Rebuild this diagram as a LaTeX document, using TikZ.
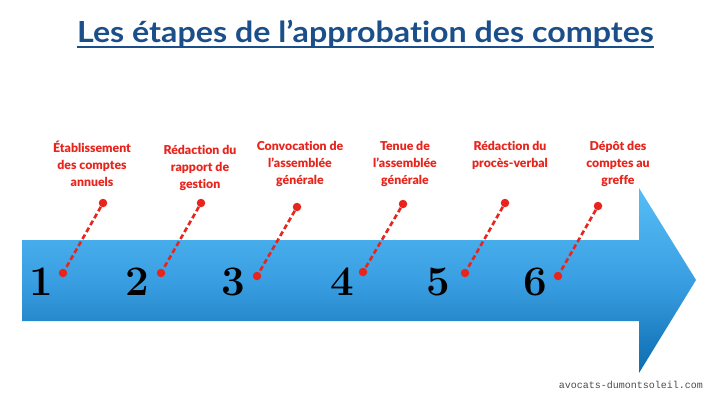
\documentclass[tikz,border=0pt]{standalone}
\usepackage{fontspec}
\setmainfont{Lato}
\newfontfamily\labfont{Lato Black}[Ligatures=NoCommon]
\newfontfamily\titlefont{Lato Bold}[Ligatures=NoCommon, FakeStretch=1.11]
\newfontfamily\wmfont{Liberation Mono}
\newfontfamily\numfont{Latin Modern Roman}
\usetikzlibrary{calc}
\definecolor{titleblue}{HTML}{1A4F8A}
\definecolor{stepred}{HTML}{E8251C}
\definecolor{arrowtop}{HTML}{55BDF5}
\definecolor{arrowmid}{HTML}{3A9FE2}
\definecolor{arrowbot}{HTML}{0C6CB0}
\tikzset{
  x=1pt, y=-1pt,
  lbl/.style={text=stepred, font=\labfont\fontsize{12.3}{17}\selectfont, align=center, inner sep=0pt},
  num/.style={font=\numfont\bfseries\fontsize{42}{42}\selectfont, text=black, inner sep=0pt, anchor=base},
  reddot/.style={circle, fill=stepred, minimum size=8.5pt, inner sep=0pt},
  dashline/.style={stepred, line width=2.6pt, dash pattern=on 5pt off 3pt},
}
\begin{document}
\begin{tikzpicture}
\useasboundingbox (0,0) rectangle (712,400);
\fill[white] (0,0) rectangle (712,400);
% arrow
\shade[top color=arrowtop, bottom color=arrowbot, middle color=arrowmid]
  (22,240) -- (639,240) -- (639,188) -- (696,280) -- (639,373) -- (639,321) -- (22,321) -- cycle;
% title
\node[text=titleblue, font=\titlefont\fontsize{29}{29}\selectfont, inner sep=0pt, anchor=base] (title) at (365.5,42) {Les étapes de l’approbation des comptes};
\draw[titleblue, line width=2pt] ([yshift=-5pt]title.base west) -- ([yshift=-5pt]title.base east);
% numbers
\node[num] (n1) at (41,295) {1};
\node[num] (n2) at (137,295) {2};
\node[num] (n3) at (233,295) {3};
\node[num] (n4) at (342,295) {4};
\node[num] (n5) at (438,295) {5};
\node[num] (n6) at (535,295) {6};
% dots
\node[reddot] (u1) at (103,203) {};
\node[reddot] (l1) at (63,273) {};
\node[reddot] (u2) at (201,203) {};
\node[reddot] (l2) at (161,273) {};
\node[reddot] (u3) at (297,207) {};
\node[reddot] (l3) at (257,276) {};
\node[reddot] (u4) at (403,204) {};
\node[reddot] (l4) at (363,272) {};
\node[reddot] (u5) at (505,203) {};
\node[reddot] (l5) at (465,273) {};
\node[reddot] (u6) at (598,206) {};
\node[reddot] (l6) at (558,276) {};
\foreach \i in {1,...,6} \draw[dashline] (u\i) -- (l\i);
% labels
\node[lbl, anchor=north] (t1) at (92,141) {Établissement\\des comptes\\annuels};
\node[lbl, anchor=north] (t2) at (200,145) {Rédaction du\\rapport de\\gestion};
\node[lbl, anchor=north] (t3) at (300,141) {Convocation de\\l’assemblée\\générale};
\node[lbl, anchor=north] (t4) at (405,141) {Tenue de\\l’assemblée\\générale};
\node[lbl, anchor=north] (t5) at (510,141) {Rédaction du\\procès-verbal};
\node[lbl, anchor=north] (t6) at (618,141) {Dépôt des\\comptes au\\greffe};
% watermark
\node[font=\wmfont\fontsize{10}{10}\selectfont, text=black!70, inner sep=0pt, anchor=base east] (wm) at (703,388) {avocats-dumontsoleil.com};
\end{tikzpicture}
\end{document}
